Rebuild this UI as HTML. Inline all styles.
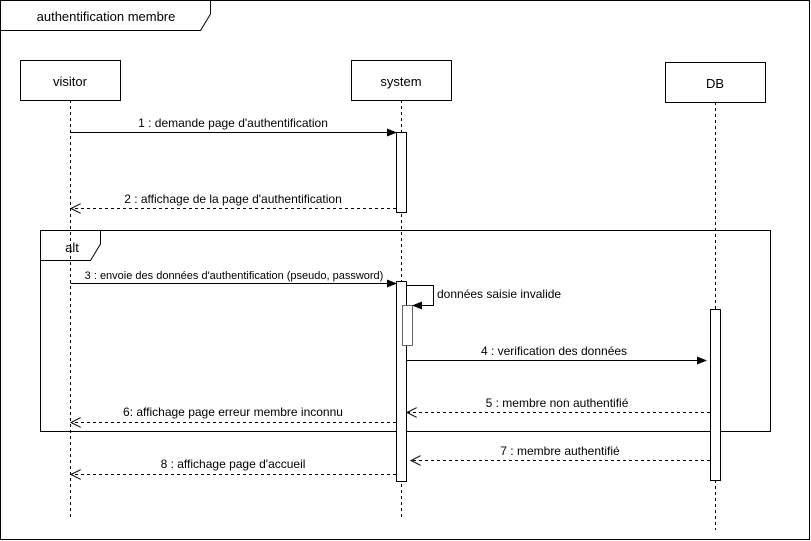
<!DOCTYPE html>
<html><head><meta charset="utf-8"><style>
html,body{margin:0;padding:0;background:#fff;}
svg{display:block;font-family:"Liberation Sans",Arial,sans-serif;}
</style></head><body>
<svg width="811" height="541" viewBox="0 0 811 541" xmlns="http://www.w3.org/2000/svg">
<defs>
<marker id="f" markerWidth="10" markerHeight="8" refX="9" refY="4" orient="auto" markerUnits="userSpaceOnUse"><path d="M0,0 L10,4 L0,8 z" fill="#000"/></marker>
<marker id="o" markerWidth="12" markerHeight="10" refX="10" refY="5" orient="auto" markerUnits="userSpaceOnUse"><path d="M0,0 L10,5 L0,10" fill="none" stroke="#000"/></marker>
</defs>
<rect x="0.5" y="0.5" width="809" height="539" fill="#fff" stroke="#000"/>
<path d="M0.5,30.5 H200.5 L210.5,14 V0.5" fill="none" stroke="#000"/>
<text x="106" y="21" font-size="13" text-anchor="middle">authentification membre</text>

<g stroke="#000" stroke-dasharray="3,3" fill="none">
<line x1="70.5" y1="100" x2="70.5" y2="518"/>
<line x1="401.5" y1="100" x2="401.5" y2="518"/>
<line x1="715.5" y1="102" x2="715.5" y2="530"/>
</g>
<g fill="#fff" stroke="#000">
<rect x="20.5" y="60.5" width="100" height="40"/>
<rect x="351.5" y="60.5" width="100" height="40"/>
<rect x="665.5" y="62.5" width="100" height="40"/>
</g>
<g font-size="13" text-anchor="middle">
<text x="70" y="86">visitor</text>
<text x="401" y="86">system</text>
<text x="715" y="88">DB</text>
</g>

<rect x="40.5" y="230.5" width="730" height="201" fill="none" stroke="#000"/>
<path d="M40.5,260.5 H90.5 L100.5,244 V230.5" fill="none" stroke="#000"/>
<text x="72" y="252" font-size="13" text-anchor="middle">alt</text>

<g fill="#fff" stroke="#000">
<rect x="396.5" y="132.5" width="10" height="80"/>
<rect x="396.5" y="281.5" width="10" height="200"/>
<rect x="710.5" y="309.5" width="10" height="171"/>
</g>
<rect x="402.5" y="305.5" width="10" height="40" fill="#fff" stroke="#666"/>

<g stroke="#000" fill="none">
<line x1="70.5" y1="132.5" x2="396" y2="132.5" marker-end="url(#f)"/>
<line x1="396" y1="208.5" x2="71" y2="208.5" stroke-dasharray="3,3" marker-end="url(#o)"/>
<line x1="70.5" y1="283.5" x2="396" y2="283.5" marker-end="url(#f)"/>
<path d="M406.5,285.5 H433.5 V305.5 H413" marker-end="url(#f)"/>
<line x1="406.5" y1="360.5" x2="706" y2="360.5" marker-end="url(#f)"/>
<line x1="710" y1="412.5" x2="407" y2="412.5" stroke-dasharray="3,3" marker-end="url(#o)"/>
<line x1="396" y1="422.5" x2="71" y2="422.5" stroke-dasharray="3,3" marker-end="url(#o)"/>
<line x1="710" y1="460.5" x2="411" y2="460.5" stroke-dasharray="3,3" marker-end="url(#o)"/>
<line x1="396" y1="474.5" x2="71" y2="474.5" stroke-dasharray="3,3" marker-end="url(#o)"/>
</g>
<g font-size="12" text-anchor="middle">
<text x="233" y="127">1 : demande page d'authentification</text>
<text x="233" y="203">2 :  affichage de la page d'authentification</text>
<text x="234" y="279" font-size="11">3 : envoie des données d'authentification (pseudo, password)</text>
<text x="437" y="298" text-anchor="start">données saisie invalide</text>
<text x="554" y="355">4 : verification des données</text>
<text x="557" y="407">5 : membre non authentifié</text>
<text x="233" y="416">6: affichage page erreur membre inconnu</text>
<text x="560" y="455">7 : membre authentifié</text>
<text x="233" y="468">8 : affichage page d'accueil</text>
</g>
</svg>
</body></html>
